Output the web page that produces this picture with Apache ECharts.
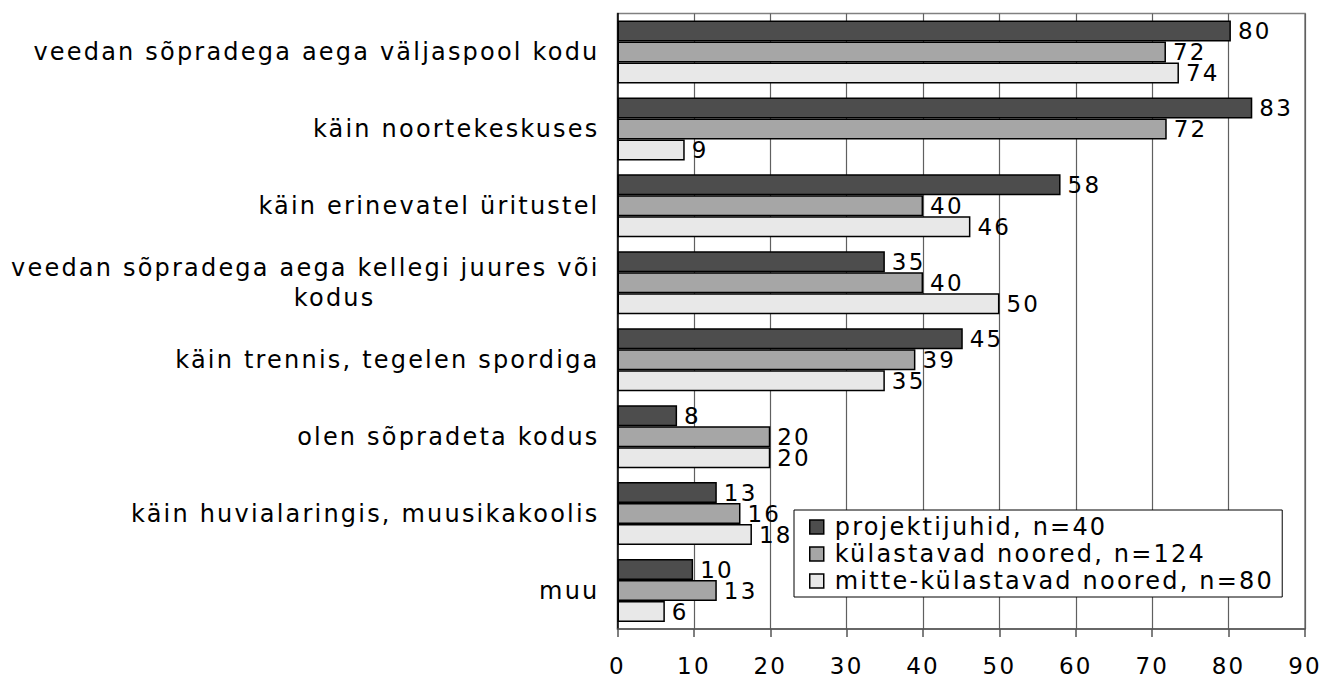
<!DOCTYPE html>
<html>
<head>
<meta charset="utf-8">
<script src="https://cdn.jsdelivr.net/npm/echarts@6/dist/echarts.min.js"></script>
<style>
  html, body { margin: 0; padding: 0; background: #fff; }
  #chart { width: 1338px; height: 677px; }
  /* tekst on originaalis hõredam */
  #chart text { letter-spacing: 2.2px; }
</style>
</head>
<body>
<div id="chart"></div>
<script>
var categories = [
    'veedan sõpradega aega väljaspool kodu',
    'käin noortekeskuses',
    'käin erinevatel üritustel',
    'veedan sõpradega aega kellegi juures või\nkodus',
    'käin trennis, tegelen spordiga',
    'olen sõpradeta kodus',
    'käin huvialaringis, muusikakoolis',
    'muu'
];
var seriesNames = ['projektijuhid, n=40', 'külastavad noored, n=124', 'mitte-külastavad noored, n=80'];
var projektijuhid = [80.3, 83.1, 58, 35, 45.2, 7.8, 13, 9.9];
var kulastavad = [71.8, 71.9, 40, 40, 39, 20, 16.1, 13];
var mitteKulastavad = [73.5, 8.8, 46.2, 50, 35, 20, 17.6, 6.2];
var xTicks = [0, 10, 20, 30, 40, 50, 60, 70, 80, 90];

var colors = ['#4d4d4d', '#a6a6a6', '#e8e8e8'];
var fontFam = '"DejaVu Sans", Verdana, sans-serif';

function makeSeries(name, data, color) {
    return {
        name: name,
        type: 'bar',
        data: data,
        barWidth: 21,
        barGap: '0%',
        itemStyle: {
            color: color,
            borderColor: '#000',
            borderWidth: 1.5
        },
        label: {
            show: true,
            position: 'right',
            distance: 7,
            color: '#000',
            fontSize: 23,
            lineHeight: 21,
            fontFamily: fontFam,
            formatter: function (p) { return Math.round(p.value); }
        }
    };
}

var option = {
    animation: false,
    grid: {
        left: 617.5,
        right: 33,
        top: 13.5,
        bottom: 43,
        show: true,
        borderColor: '#808080',
        borderWidth: 1.5
    },
    legend: {
        orient: 'vertical',
        left: 794,
        top: 510,
        padding: [5, 72, 4, 15],
        itemGap: 3,
        itemWidth: 14,
        itemHeight: 14,
        icon: 'rect',
        backgroundColor: '#fff',
        borderColor: '#000',
        borderWidth: 1,
        itemStyle: { borderColor: '#000', borderWidth: 1.5 },
        textStyle: { fontSize: 24, fontFamily: fontFam, color: '#000', padding: [0, 0, 0, 6] },
        data: seriesNames
    },
    xAxis: {
        type: 'value',
        min: 0,
        max: 90,
        interval: 10,
        axisLine: { show: true, lineStyle: { color: '#555', width: 1.5 } },
        axisTick: { show: true, length: 8, lineStyle: { color: '#555', width: 1.5 } },
        axisLabel: {
            fontSize: 23,
            fontFamily: fontFam,
            color: '#000',
            margin: 25,
            formatter: function (v) { return xTicks.indexOf(v) >= 0 ? String(v) : ''; }
        },
        splitLine: { show: true, lineStyle: { color: '#606060', width: 1.2 } }
    },
    yAxis: {
        type: 'category',
        inverse: true,
        data: categories,
        axisLine: { show: true, lineStyle: { color: '#000', width: 1.5 } },
        axisTick: { show: false },
        splitLine: { show: false },
        axisLabel: {
            fontSize: 24,
            fontFamily: fontFam,
            color: '#000',
            margin: 18,
            lineHeight: 30,
            formatter: function (v) {
                if (v.indexOf('\n') >= 0) {
                    var parts = v.split('\n');
                    return '{a|' + parts[0] + '}\n{b|' + parts[1] + '}';
                }
                return v;
            },
            rich: {
                a: { align: 'right', fontSize: 24, fontFamily: fontFam, lineHeight: 30 },
                b: { align: 'right', fontSize: 24, fontFamily: fontFam, lineHeight: 30, padding: [0, 224, 0, 0] }
            }
        }
    },
    series: [
        makeSeries(seriesNames[0], projektijuhid, colors[0]),
        makeSeries(seriesNames[1], kulastavad, colors[1]),
        makeSeries(seriesNames[2], mitteKulastavad, colors[2])
    ]
};

var myChart = echarts.init(document.getElementById('chart'), null, { renderer: 'svg' });
myChart.setOption(option);
</script>
</body>
</html>
